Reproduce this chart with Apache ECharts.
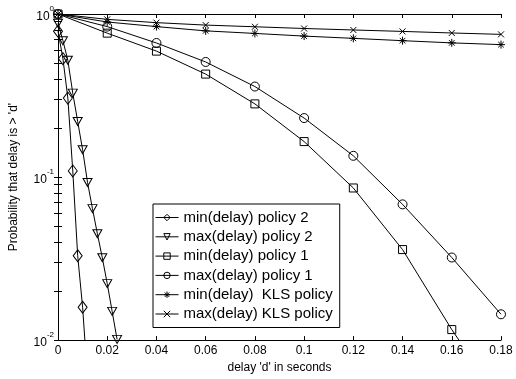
<!DOCTYPE html>
<html><head><meta charset="utf-8">
<script src="https://cdn.jsdelivr.net/npm/echarts@6/dist/echarts.min.js"></script>
<style>html,body{margin:0;padding:0;background:#fff}#c{width:516px;height:379px}</style>
</head><body><div id="c"></div>
<script>
// ---- data ----
const p2X = [0, 0.002, 0.004, 0.006, 0.008, 0.010, 0.012, 0.014, 0.016, 0.018, 0.020, 0.022, 0.024];
const p2MinY = [0.785, 0.532, 0.305, 0.109, 0.0329, 0.0159, 0.0058];
const p2MaxY = [0.877, 0.686, 0.520, 0.327, 0.219, 0.147, 0.0926, 0.064, 0.0449, 0.032, 0.0222, 0.0150, 0.0101];
const p1X = [0, 0.02, 0.04, 0.06, 0.08, 0.10, 0.12, 0.14, 0.16, 0.18];
const p1MinY = [1.0, 0.763, 0.592, 0.428, 0.281, 0.165, 0.0857, 0.0359, 0.0116, 0.0042];
const p1MaxY = [1.0, 0.837, 0.664, 0.508, 0.359, 0.230, 0.135, 0.068, 0.0321, 0.0144];
const klsMinY = [1.0, 0.893, 0.837, 0.788, 0.760, 0.732, 0.709, 0.686, 0.665, 0.649];
const klsMaxY = [1.0, 0.927, 0.885, 0.855, 0.835, 0.815, 0.798, 0.782, 0.765, 0.750];
const seriesNames = ['min(delay) policy 2', 'max(delay) policy 2', 'min(delay) policy 1', 'max(delay) policy 1', 'min(delay)  KLS policy', 'max(delay) KLS policy'];
const yLabelValues = [0.01, 0.1, 1];
const yTickValues = [0.01,0.02,0.03,0.04,0.05,0.06,0.07,0.08,0.09,0.1,0.2,0.3,0.4,0.5,0.6,0.7,0.8,0.9,1];
const xTitle = "delay 'd' in seconds";
const yTitle = "Probability that delay is > 'd'";

const pairs = (xs, ys) => ys.map((y, i) => [xs[i], y]);
const FONT = "'Liberation Sans', Arial, Helvetica, sans-serif";
const STAR = 'path://M5,0 L5,10 M0,5 L10,5 M1.5,1.5 L8.5,8.5 M8.5,1.5 L1.5,8.5';
const CROSS = 'path://M0,0 L10,10 M10,0 L0,10';

function mk(name, data, symbol, size, rotate) {
  return {
    name, type: 'line', data, symbol, symbolSize: size, symbolRotate: rotate || 0,
    xAxisIndex: 0, yAxisIndex: 0, clip: true, animation: false, showAllSymbol: true,
    lineStyle: { color: '#000', width: 1 },
    itemStyle: { color: 'rgba(0,0,0,0)', borderColor: '#000', borderWidth: 1 },
    emphasis: { disabled: true }
  };
}

const chart = echarts.init(document.getElementById('c'), null, { renderer: 'canvas' });
const axisCommon = { lineStyle: { color: '#000', width: 1 } };
chart.setOption({
  backgroundColor: '#fff',
  animation: false,
  textStyle: { fontFamily: FONT },
  grid: { left: 54, right: 15, top: 14, bottom: 33 },
  legend: {
    orient: 'vertical', left: 153, top: 204,
    padding: [6, 7, 6, 2], itemGap: 4.3, itemWidth: 23, itemHeight: 8,
    borderColor: '#000', borderWidth: 1, backgroundColor: '#fff',
    lineStyle: { width: 1, color: '#000' },
    itemStyle: { borderWidth: 1, borderColor: '#000', color: 'rgba(0,0,0,0)' },
    textStyle: { fontSize: 15, lineHeight: 14, color: '#000', fontFamily: FONT },
    data: seriesNames, selectedMode: false
  },
  xAxis: [{
    type: 'value', min: 0, max: 0.18, interval: 0.02, position: 'bottom',
    name: xTitle, nameLocation: 'middle', nameGap: 20,
    nameTextStyle: { fontSize: 12, color: '#000', fontFamily: FONT },
    axisLine: axisCommon, axisTick: { inside: true, length: 4, lineStyle: { color: '#000' } },
    axisLabel: { fontSize: 12, color: '#000', margin: 5, fontFamily: FONT,
      formatter: v => (v === 0 ? '0' : String(+v.toFixed(2))) },
    splitLine: { show: false }
  }, {
    type: 'value', min: 0, max: 0.18, interval: 0.02, position: 'top',
    axisLine: axisCommon, axisTick: { inside: true, length: 4, lineStyle: { color: '#000' } },
    axisLabel: { show: false }, splitLine: { show: false }
  }],
  yAxis: [{
    type: 'log', logBase: 10, min: 0.01, max: 1, position: 'left',
    name: yTitle, nameLocation: 'middle', nameGap: 38, nameRotate: 90,
    nameTextStyle: { fontSize: 12, color: '#000', fontFamily: FONT },
    axisLine: axisCommon,
    axisTick: { inside: true, length: 4, lineStyle: { color: '#000' }, customValues: yTickValues },
    axisLabel: {
      customValues: yLabelValues, margin: 4, color: '#000',
      formatter: v => '{b|10}{s|' + Math.round(Math.log10(v)) + '}',
      rich: {
        b: { fontSize: 12, fontFamily: FONT, color: '#000', lineHeight: 18, verticalAlign: 'bottom' },
        s: { fontSize: 8, fontFamily: FONT, color: '#000', lineHeight: 18, verticalAlign: 'top' }
      }
    },
    splitLine: { show: false }
  }, {
    type: 'log', logBase: 10, min: 0.01, max: 1, position: 'right',
    axisLine: axisCommon,
    axisTick: { inside: true, length: 4, lineStyle: { color: '#000' }, customValues: yTickValues },
    axisLabel: { show: false }, splitLine: { show: false }
  }],
  series: [
    mk(seriesNames[0], pairs(p2X, p2MinY), 'diamond', [9, 12]),
    mk(seriesNames[1], pairs(p2X, p2MaxY), 'triangle', [9, 8], 180),
    mk(seriesNames[2], pairs(p1X, p1MinY), 'rect', 8),
    mk(seriesNames[3], pairs(p1X, p1MaxY), 'circle', 9),
    mk(seriesNames[4], pairs(p1X, klsMinY), STAR, 8),
    mk(seriesNames[5], pairs(p1X, klsMaxY), CROSS, 6)
  ]
});
</script>
</body></html>
